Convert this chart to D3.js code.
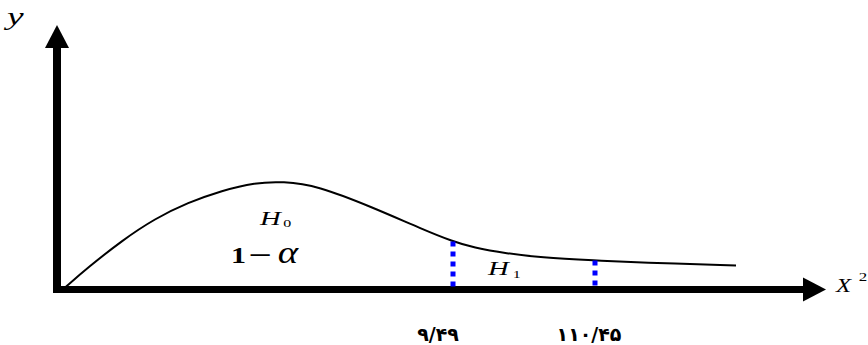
<!DOCTYPE html>
<html>
<head>
<meta charset="utf-8">
<script src="https://cdn.jsdelivr.net/npm/d3@7"></script>
<style>
  body { margin: 0; background: #fff; }
  svg { display: block; }
</style>
</head>
<body>
<script>
// Data (abstract x units, density height units)
var curveX = [8, 31, 65, 98, 131, 165, 198, 226, 260, 316, 366, 396, 416, 450, 483, 538, 583, 679];
var curveY = [2, 22, 49, 71, 87, 99, 107, 108, 104, 82, 60, 48, 42, 36, 32, 29, 27, 24];
var critX = [396, 538];
var critY = [48, 29];
var critLabels = ["۹/۴۹", "۱۱۰/۴۵"];

var svgWidth = 868;
var svgHeight = 345;

var svg = d3.select("body")
  .append("svg")
  .attr("width", svgWidth)
  .attr("height", svgHeight);

// scales
var xScale = d3.scaleLinear().domain([0, 750]).range([57, 807]);
var yScale = d3.scaleLinear().domain([0, 110]).range([289.5, 179.5]);

var x0 = xScale(0);
var y0 = yScale(0);

// axes drawn as thick arrows
svg.append("line")
  .attr("x1", x0).attr("y1", y0 + 3.5)
  .attr("x2", x0).attr("y2", 46)
  .attr("stroke", "#000").attr("stroke-width", 8);
svg.append("path")
  .attr("d", `M${x0 - 12},48 L${x0},25 L${x0 + 12},48 Z`)
  .attr("fill", "#000");

svg.append("line")
  .attr("x1", x0 - 4).attr("y1", y0)
  .attr("x2", 805).attr("y2", y0)
  .attr("stroke", "#000").attr("stroke-width", 7);
svg.append("path")
  .attr("d", `M803,${y0 - 12} L826,${y0} L803,${y0 + 12} Z`)
  .attr("fill", "#000");

// density curve
var pts = curveX.map((d, i) => [d, curveY[i]]);
var line = d3.line()
  .x(d => xScale(d[0]))
  .y(d => yScale(d[1]))
  .curve(d3.curveBasis);

svg.append("path")
  .datum(pts)
  .attr("d", line)
  .attr("fill", "none")
  .attr("stroke", "#000")
  .attr("stroke-width", 2);

// critical value lines
svg.selectAll(".crit")
  .data(critX)
  .enter()
  .append("line")
  .attr("class", "crit")
  .attr("x1", d => xScale(d))
  .attr("x2", d => xScale(d))
  .attr("y1", (d, i) => yScale(critY[i]))
  .attr("y2", y0 - 2)
  .attr("stroke", "#0000ff")
  .attr("stroke-width", 5)
  .attr("stroke-dasharray", "5,5");

// critical value labels (Persian digits)
var labelDx = [-15, -6];
svg.selectAll(".critLabel")
  .data(critLabels)
  .enter()
  .append("text")
  .attr("class", "critLabel")
  .attr("x", (d, i) => xScale(critX[i]) + labelDx[i])
  .attr("y", 341)
  .attr("text-anchor", "middle")
  .attr("font-family", "DejaVu Sans")
  .attr("font-weight", "bold")
  .attr("font-size", "19px")
  .text(d => d);

// math labels (equation-editor text, stretched sideways like the original)
var serif = "'Liberation Serif', 'Times New Roman', serif";

function mathText(x, y, sx, size) {
  return svg.append("text")
    .attr("transform", `translate(${x},${y}) scale(${sx},1)`)
    .attr("font-family", serif)
    .attr("font-size", size + "px");
}

mathText(7, 25, 1.5, 25)
  .attr("font-style", "italic")
  .text("y");

var xl = mathText(836, 292, 1.3, 19);
xl.append("tspan").attr("font-style", "italic").text("X");
xl.append("tspan").attr("x", 17.5).attr("y", -11).attr("font-size", "13px").text("2");

var h0 = mathText(260, 225, 1.6, 18);
h0.append("tspan").attr("font-style", "italic").text("H");
h0.append("tspan").attr("x", 14.5).attr("y", 2).attr("font-size", "10px").text("0");

var h1 = mathText(488, 275, 1.6, 18);
h1.append("tspan").attr("font-style", "italic").text("H");
h1.append("tspan").attr("x", 15.5).attr("y", 3).attr("font-size", "10px").text("1");

var alpha = mathText(231, 263, 1.25, 24);
alpha.append("tspan").attr("x", 0).attr("y", 0).attr("font-weight", "bold").text("1");
alpha.append("tspan").attr("x", 14).attr("y", 3).attr("font-size", "33px").text("−");
alpha.append("tspan").attr("x", 37.5).attr("y", 0).attr("font-style", "italic").attr("font-size", "31px").text("α");
</script>
</body>
</html>
